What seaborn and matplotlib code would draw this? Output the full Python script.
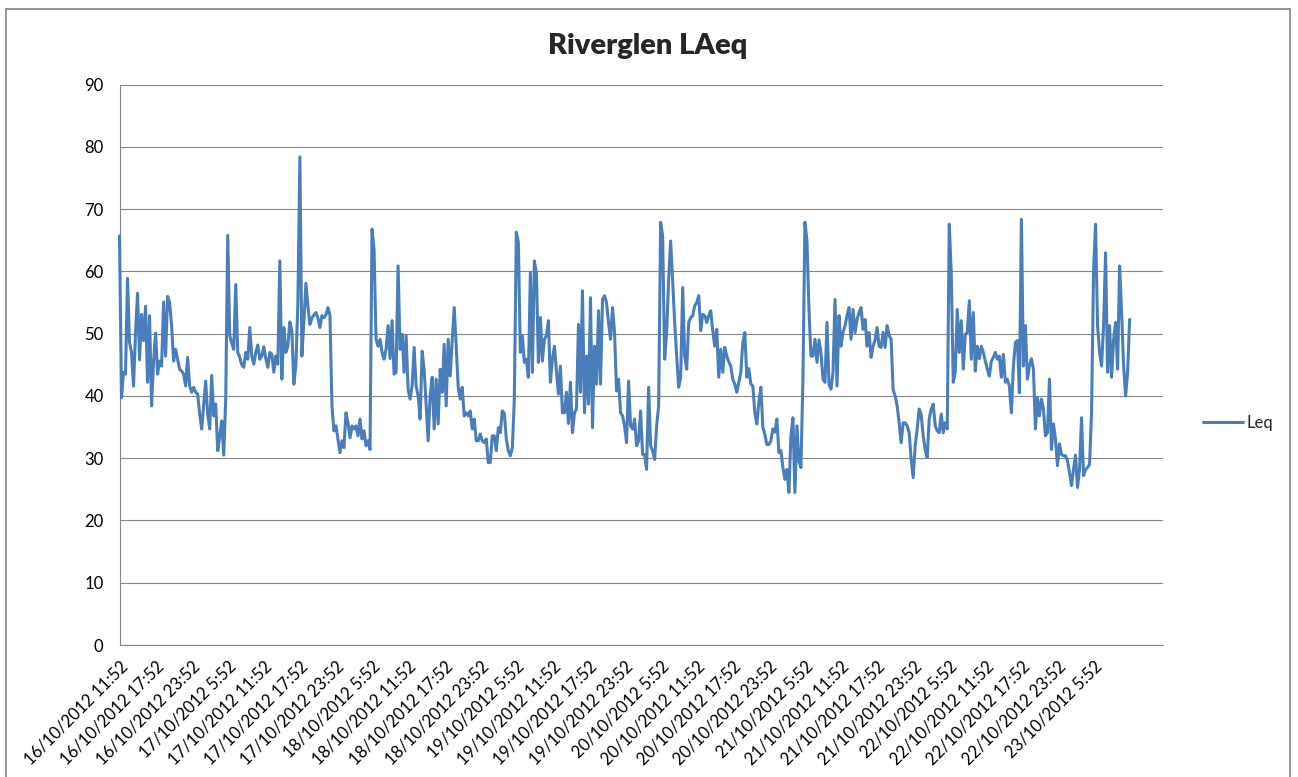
import pandas as pd
import seaborn as sns
import matplotlib.pyplot as plt
from matplotlib.patches import Rectangle

# Leq readings, 20 minute intervals, one list per day starting 16/10/2012 11:52
day1 = [65.7, 39.7, 43.8, 43.5, 58.9, 48.6, 47, 41.6, 50.2, 56.5, 45.8, 53.1,
        48.9, 54.4, 42.2, 52.9, 38.4, 45.6, 50.1, 43.5, 45.6, 44.8, 55.1, 46.4,
        56, 55, 51.3, 45.6, 47.5, 45.9, 44.3, 44, 43.5, 41.6, 46.2, 41.6,
        40.6, 41.4, 40.6, 40.3, 37.1, 34.7, 38.5, 42.4, 37.1, 34.7, 43.3, 36.8,
        38.7, 31.2, 33.5, 36, 30.5, 39.5, 65.8, 49.7, 48.5, 47.5, 57.9, 47,
        46.2, 45, 44.6, 47, 45.9, 51, 46.4, 45.1, 47, 48.2, 45.9, 46.4]
day2 = [47.9, 46, 44.6, 47, 46.7, 43.8, 46.4, 45.1, 61.7, 42.7, 51, 47,
        48, 51.9, 50.5, 41.9, 45, 55, 78.4, 46.4, 52, 58.1, 54.5, 51.5,
        52.5, 53, 53.4, 52.5, 51, 52.9, 52.6, 53, 54.2, 53, 38.4, 34.4,
        35.2, 33, 30.9, 32.8, 31.7, 37.3, 35.7, 33.3, 35.2, 34.7, 35.2, 33.6,
        36.3, 33.1, 34.4, 32, 32.8, 31.4, 66.8, 63.6, 49.1, 48, 49.1, 47,
        45.9, 47.5, 51.3, 46, 52.1, 43.5, 43.8, 60.9, 47.5, 49.9, 43.8, 49.7]
day3 = [41.1, 39.5, 41.6, 47.8, 41.6, 40, 36.3, 47.2, 44.3, 38.4, 32.8, 40,
        43, 34.7, 42.7, 35.5, 44.3, 40.6, 48.3, 38.4, 49.1, 43.2, 48.9, 54.2,
        48, 41.4, 39.5, 41.4, 36.8, 37.3, 36.8, 37.6, 34.7, 36.3, 32.8, 32.8,
        33.9, 32.8, 32.5, 33.1, 29.3, 29.3, 33.6, 33.6, 31.2, 34.9, 34.1, 37.6,
        37.2, 33.1, 31.2, 30.4, 31.7, 39.5, 66.3, 64.7, 47, 49.7, 45.4, 45.9,
        43, 59.8, 43.8, 61.7, 59.8, 45.4, 52.6, 45.6, 49.1, 49.7, 52.1, 42.2]
day4 = [45.9, 48, 44, 40.3, 44.8, 37.3, 37.3, 40.6, 35.6, 42.2, 34.1, 37.3,
        37.9, 51.5, 40.6, 56.9, 37.3, 46.4, 38.7, 55.8, 34.9, 48, 41.9, 53.7,
        41.9, 55.5, 56.1, 55, 51.8, 49.1, 54.2, 50.2, 40.8, 42.7, 37.3, 36.8,
        35.2, 32.5, 42.4, 35.2, 34.7, 36.3, 32, 32.8, 37.6, 30.6, 30.6, 28.2,
        41.4, 32, 31.2, 29.8, 35.2, 38.4, 67.9, 65.7, 45.9, 50.2, 58.8, 64.9,
        58.5, 51.8, 46.4, 41.4, 43, 57.4, 46.4, 44.3, 51.8, 52.6, 52.9, 54.5]
day5 = [55, 56.1, 50.5, 53.1, 52.9, 51.8, 52.9, 53.7, 50.5, 48, 50.7, 43,
        47.5, 43.8, 47.8, 46.4, 45.5, 44.8, 42.7, 41.9, 40.6, 42.2, 43.8, 48.6,
        50.2, 43, 44.4, 41.9, 41.6, 37.3, 35.5, 39, 41.4, 35, 33.8, 32.2,
        32.2, 32.8, 34.7, 34.2, 36.3, 30.9, 31.2, 28.5, 26.6, 28.2, 24.5, 33.6,
        36.5, 24.5, 35.2, 29.5, 28.5, 42.7, 67.9, 65, 54, 46.4, 46.4, 49.1,
        45.4, 49, 47, 42.7, 42.2, 51.8, 41.9, 41.1, 43.8, 55.5, 41.6, 52.9]
day6 = [48, 50.2, 51.3, 52.9, 54.2, 49.1, 53.9, 50.2, 52.3, 53.4, 54.2, 50.7,
        52.3, 48, 50.2, 46.2, 48, 49, 51, 48, 47.8, 50.2, 47.8, 51.3,
        49.7, 49.1, 41, 40, 38.4, 35.7, 32.5, 35.7, 35.7, 35.2, 34.1, 29.8,
        26.9, 32, 34.7, 37.9, 37, 33.6, 31.4, 30.1, 36.3, 37.9, 38.7, 35.2,
        34.4, 34.1, 37.1, 34.1, 35.7, 34.7, 67.6, 59.8, 42.2, 43.8, 53.9, 47,
        52.1, 44.3, 49.9, 50.2, 55.3, 45.9, 53.4, 44, 48, 46, 48, 47]
day7 = [45.6, 44.3, 43.2, 45.6, 46.2, 47, 45.9, 46.4, 43, 46.7, 42.2, 42.7,
        41.6, 37.3, 44.8, 48.6, 48.9, 40.5, 68.4, 44.8, 51.3, 42.7, 44.8, 46,
        44.3, 34.7, 39.7, 36.8, 39.5, 37.9, 33.6, 34.1, 42.7, 31.4, 35.5, 33.1,
        28.8, 32.3, 30.6, 30.4, 30.4, 29.6, 27.7, 25.6, 28.2, 30.5, 25.3, 28.2,
        36.5, 27.2, 28.2, 28.5, 29, 37.3, 60, 67.6, 51.3, 47, 44.8, 51.3,
        63, 43.8, 51.3, 43, 49, 51.8, 44.3, 60.9, 53.4, 44.8, 40, 43.8,
        52.3]

leq = day1 + day2 + day3 + day4 + day5 + day6 + day7
start = pd.Timestamp("2012-10-16 11:52")
times = pd.date_range(start, periods=len(leq), freq="20min")
df = pd.DataFrame({"time": times, "Leq": leq})

tick_times = pd.date_range(start, times[-1], freq="6h")
tick_labels = ["{}/{}/{} {}:{:02d}".format(t.day, t.month, t.year, t.hour, t.minute)
               for t in tick_times[:-1]] + [""]

sns.set_style("white")
plt.rcParams['font.family'] = ['Lato', 'DejaVu Sans']

W, H = 1298, 777
fig = plt.figure(figsize=(W / 100, H / 100), dpi=100)
ax = fig.add_axes([119.5 / W, 1 - 645 / H, (1163.3 - 119.5) / W, (645 - 84.7) / H])

sns.lineplot(data=df, x="time", y="Leq", ax=ax, color="#4A7EBB", lw=2.2, label="Leq")
for line in ax.lines:
    line.set_clip_on(False)
    line.set_zorder(3)

grey = "#868686"
ax.set_ylim(0, 90)
ax.set_yticks(range(0, 91, 10))
ax.set_xlim(start, start + pd.Timedelta(hours=173.6))
ax.set_xticks(tick_times)
ax.set_xticklabels(tick_labels, rotation=45, ha="right", rotation_mode="anchor")
ax.set_xlabel("")
ax.set_ylabel("")
ax.yaxis.grid(True, color=grey, lw=0.8)
ax.set_axisbelow(True)
for side in ["top", "right"]:
    ax.spines[side].set_visible(False)
for side in ["left", "bottom"]:
    ax.spines[side].set_color(grey)
    ax.spines[side].set_linewidth(0.8)
    ax.spines[side].set_zorder(2)
ax.tick_params(axis="both", direction="out", length=4.5, width=0.8, color=grey,
               labelsize=12, labelcolor="black")
ax.tick_params(axis="y", pad=7)
ax.tick_params(axis="x", pad=5)

ax.legend(loc="center left", bbox_to_anchor=(1203 / W, 1 - 423 / H),
          bbox_transform=fig.transFigure, frameon=False, fontsize=12,
          handlelength=2.4, handletextpad=0.2, borderpad=0, borderaxespad=0)

fig.text(648 / W, 1 - 54 / H, "Riverglen LAeq", ha="center", va="baseline",
         fontsize=21, fontweight="heavy")

fig.patches.append(Rectangle((5.5 / W, -0.02), (1290 - 5.5) / W, 1.02 - 9 / H,
                             transform=fig.transFigure, fill=False,
                             edgecolor="#8c8c8c", lw=1.3))

fig.savefig("out.png", dpi=100)
